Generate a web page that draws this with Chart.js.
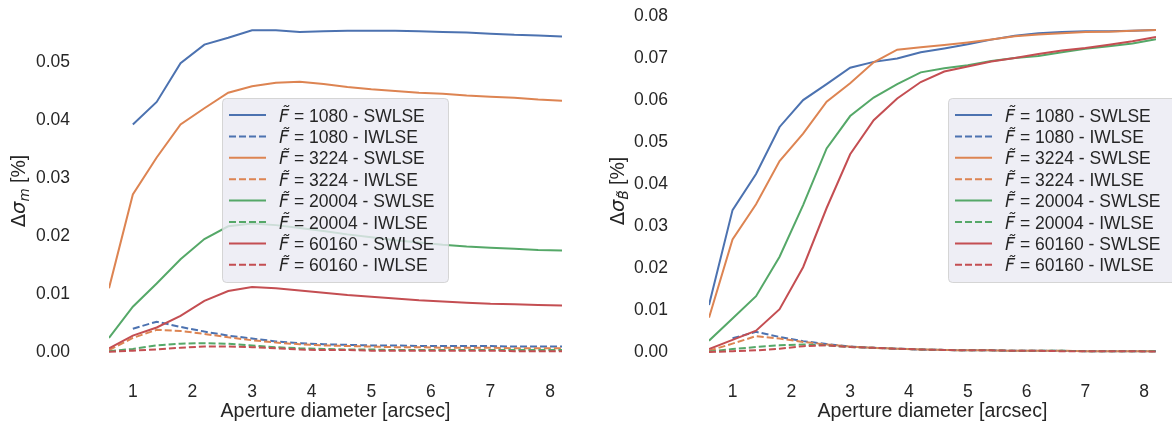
<!DOCTYPE html>
<html>
<head>
<meta charset="utf-8">
<script src="https://cdn.jsdelivr.net/npm/chart.js@4.4.1/dist/chart.umd.min.js"></script>
<style>
  html, body { margin: 0; padding: 0; background: #fff; }
  .panel { position: absolute; top: 0; width: 586px; height: 431px; }
</style>
</head>
<body>
<div class="panel" style="left:0"><canvas id="magChart" width="586" height="431"></canvas></div>
<div class="panel" style="left:586px"><canvas id="colChart" width="586" height="431"></canvas></div>
<script>
// aperture diameters [arcsec]
const apertures = [0.6, 1.0, 1.4, 1.8, 2.2, 2.6, 3.0, 3.4, 3.8, 4.2, 4.6, 5.0, 5.4, 5.8, 6.2, 6.6, 7.0, 7.4, 7.8, 8.2];
const fluxLabels = ['1080', '3224', '20004', '60160'];
const methods = ['SWLSE', 'IWLSE'];

const xTicks = [1, 2, 3, 4, 5, 6, 7, 8];
const magTicks = [0, 0.01, 0.02, 0.03, 0.04, 0.05];
const colTicks = [0, 0.01, 0.02, 0.03, 0.04, 0.05, 0.06, 0.07, 0.08];

// delta sigma_m [%]
const magSwlse1080 = [null, 0.0393, 0.0432, 0.0499, 0.0531, 0.0543, 0.0556, 0.0556, 0.0553, 0.0554, 0.0555, 0.0555, 0.0555, 0.0554, 0.0553, 0.0552, 0.0550, 0.0548, 0.0547, 0.0545];
const magIwlse1080 = [null, 0.0040, 0.0052, 0.0043, 0.0035, 0.0028, 0.0023, 0.0018, 0.0015, 0.0013, 0.0012, 0.0011, 0.0011, 0.0010, 0.0010, 0.0010, 0.0010, 0.0009, 0.0009, 0.0009];
const magSwlse3224 = [0.0110, 0.0272, 0.0336, 0.0393, 0.0421, 0.0448, 0.0459, 0.0465, 0.0467, 0.0463, 0.0458, 0.0454, 0.0451, 0.0448, 0.0446, 0.0443, 0.0441, 0.0439, 0.0436, 0.0434];
const magIwlse3224 = [0.0003, 0.0024, 0.0038, 0.0036, 0.0031, 0.0025, 0.0020, 0.0016, 0.0013, 0.0011, 0.0010, 0.0009, 0.0008, 0.0008, 0.0007, 0.0007, 0.0007, 0.0006, 0.0006, 0.0006];
const magSwlse20004 = [0.0024, 0.0078, 0.0118, 0.0160, 0.0195, 0.0217, 0.0222, 0.0219, 0.0214, 0.0209, 0.0203, 0.0198, 0.0193, 0.0189, 0.0185, 0.0182, 0.0180, 0.0178, 0.0176, 0.0175];
const magIwlse20004 = [0.0001, 0.0005, 0.0011, 0.0014, 0.0015, 0.0014, 0.0011, 0.0008, 0.0006, 0.0005, 0.0004, 0.0004, 0.0003, 0.0003, 0.0003, 0.0003, 0.0003, 0.0003, 0.0003, 0.0003];
const magSwlse60160 = [0.0006, 0.0028, 0.0042, 0.0062, 0.0088, 0.0105, 0.0112, 0.0110, 0.0106, 0.0102, 0.0098, 0.0095, 0.0092, 0.0089, 0.0087, 0.0085, 0.0083, 0.0082, 0.0081, 0.0080];
const magIwlse60160 = [0.0000, 0.0002, 0.0004, 0.0007, 0.0009, 0.0009, 0.0008, 0.0006, 0.0004, 0.0003, 0.0003, 0.0002, 0.0002, 0.0002, 0.0002, 0.0002, 0.0002, 0.0001, 0.0001, 0.0001];

// delta sigma_B~ [%]
const colSwlse1080 = [0.0112, 0.0338, 0.0424, 0.0536, 0.0600, 0.0638, 0.0677, 0.0691, 0.0699, 0.0714, 0.0723, 0.0733, 0.0744, 0.0753, 0.0759, 0.0762, 0.0764, 0.0764, 0.0765, 0.0767];
const colIwlse1080 = [null, 0.0033, 0.0048, 0.0036, 0.0026, 0.0019, 0.0013, 0.0010, 0.0008, 0.0006, 0.0005, 0.0004, 0.0004, 0.0003, 0.0003, 0.0003, 0.0002, 0.0002, 0.0002, 0.0002];
const colSwlse3224 = [0.0082, 0.0268, 0.0352, 0.0455, 0.0520, 0.0596, 0.0640, 0.0690, 0.0720, 0.0726, 0.0731, 0.0737, 0.0744, 0.0752, 0.0756, 0.0759, 0.0762, 0.0763, 0.0765, 0.0767];
const colIwlse3224 = [0.0003, 0.0020, 0.0038, 0.0032, 0.0024, 0.0018, 0.0013, 0.0010, 0.0008, 0.0006, 0.0005, 0.0004, 0.0004, 0.0003, 0.0003, 0.0003, 0.0002, 0.0002, 0.0002, 0.0002];
const colSwlse20004 = [0.0027, 0.0080, 0.0133, 0.0227, 0.0350, 0.0485, 0.0562, 0.0606, 0.0638, 0.0666, 0.0676, 0.0683, 0.0693, 0.0700, 0.0705, 0.0714, 0.0722, 0.0728, 0.0735, 0.0745];
const colIwlse20004 = [0.0001, 0.0007, 0.0012, 0.0016, 0.0018, 0.0016, 0.0012, 0.0010, 0.0008, 0.0006, 0.0005, 0.0004, 0.0004, 0.0003, 0.0003, 0.0003, 0.0002, 0.0002, 0.0002, 0.0002];
const colSwlse60160 = [0.0007, 0.0029, 0.0051, 0.0102, 0.0202, 0.0343, 0.0471, 0.0552, 0.0604, 0.0643, 0.0668, 0.0680, 0.0692, 0.0700, 0.0710, 0.0718, 0.0724, 0.0732, 0.0740, 0.0750];
const colIwlse60160 = [0.0000, 0.0002, 0.0004, 0.0008, 0.0014, 0.0016, 0.0012, 0.0010, 0.0008, 0.0006, 0.0005, 0.0004, 0.0004, 0.0003, 0.0003, 0.0002, 0.0002, 0.0002, 0.0002, 0.0001];

const palette = ['#4C72B0', '#DD8452', '#55A868', '#C44E52'];
const textColor = '#262626';
const sans = '"Liberation Sans", Arial, sans-serif';
const mathFont = '"DejaVu Sans", sans-serif';

function buildDatasets(series) {
  return series.map((vals, k) => {
    const f = Math.floor(k / 2);
    const dashed = k % 2 === 1;
    return {
      label: `F\u0303 = ${fluxLabels[f]} - ${methods[k % 2]}`,
      data: apertures.map((x, j) => ({ x, y: vals[j] })),
      borderColor: palette[f],
      borderWidth: 2,
      borderDash: dashed ? [7, 3] : [],
      borderCapStyle: 'butt',
      pointRadius: 0,
      tension: 0,
      fill: false,
      order: series.length - k   // later series on top
    };
  });
}

// legend box drawn inside the plot area
const boxLegend = {
  id: 'boxLegend',
  afterDraw(chart, args, opts) {
    const ctx = chart.ctx;
    const { x, y, w, h, rowH, firstRow } = opts;
    ctx.save();
    ctx.beginPath();
    ctx.roundRect(x + 0.5, y + 0.5, w, h, 4);
    ctx.fillStyle = 'rgba(234,234,242,0.8)';
    ctx.fill();
    ctx.strokeStyle = 'rgba(204,204,204,0.8)';
    ctx.lineWidth = 1;
    ctx.stroke();
    chart.data.datasets.forEach((ds, i) => {
      const cy = y + firstRow + i * rowH;
      ctx.beginPath();
      ctx.setLineDash(ds.borderDash);
      ctx.strokeStyle = ds.borderColor;
      ctx.lineWidth = 2;
      ctx.moveTo(x + 7, cy);
      ctx.lineTo(x + 44, cy);
      ctx.stroke();
      ctx.setLineDash([]);
      ctx.fillStyle = textColor;
      ctx.textBaseline = 'alphabetic';
      ctx.textAlign = 'left';
      const base = cy + 6.5;
      // italic F~ symbol, then the plain part of the label
      ctx.font = 'italic 17.5px ' + mathFont;
      ctx.fillText(ds.label.slice(0, 2), x + 57, base);
      const sw = ctx.measureText('F').width;
      ctx.font = '17.5px ' + sans;
      ctx.fillText(ds.label.slice(2), x + 57 + sw, base);
    });
    ctx.restore();
  }
};

// rotated y title with subscript
const yTitle = {
  id: 'yTitle',
  afterDraw(chart, args, opts) {
    const ctx = chart.ctx;
    const area = chart.chartArea;
    ctx.save();
    ctx.translate(opts.x, (area.top + area.bottom) / 2);
    ctx.rotate(-Math.PI / 2);
    ctx.fillStyle = textColor;
    ctx.textBaseline = 'alphabetic';
    ctx.textAlign = 'left';
    const parts = [
      { t: '\u0394', font: '19.5px ' + mathFont, dy: 0 },
      { t: '\u03c3', font: 'italic 19.5px ' + mathFont, dy: 0 },
      { t: opts.sub, font: 'italic 13.5px ' + mathFont, dy: 4 },
      { t: ' [%]', font: '19.5px ' + sans, dy: 0 }
    ];
    let total = 0;
    parts.forEach(p => {
      ctx.font = p.font;
      p.w = ctx.measureText(p.t).width;
      total += p.w;
    });
    let cx = -total / 2;
    parts.forEach(p => {
      ctx.font = p.font;
      ctx.fillText(p.t, cx, 7 + p.dy);
      cx += p.w;
    });
    ctx.restore();
  }
};

function makeChart(id, series, yTicks, cfg) {
  return new Chart(document.getElementById(id), {
    type: 'line',
    data: { datasets: buildDatasets(series) },
    options: {
      responsive: false,
      animation: false,
      layout: { padding: { top: 14, right: cfg.padRight, left: 0, bottom: 0 } },
      plugins: {
        legend: { display: false },
        tooltip: { enabled: false },
        boxLegend: cfg.legend,
        yTitle: { x: cfg.titleX, sub: cfg.sub }
      },
      scales: {
        x: {
          type: 'linear',
          min: 0.6,
          max: 8.2,
          // hidden tick marks keep the label gap
          grid: { display: false, drawTicks: true, tickLength: 14 },
          border: { display: false },
          afterBuildTicks: s => { s.ticks = xTicks.map(v => ({ value: v })); },
          afterFit: s => { s.height = 63; },
          ticks: {
            padding: 0,
            color: textColor,
            font: { family: sans, size: 17.5 },
            callback: v => String(v)
          },
          title: {
            display: true,
            text: 'Aperture diameter [arcsec]',
            color: textColor,
            font: { family: sans, size: 19.5 },
            padding: { top: 0, bottom: 8 }
          }
        },
        y: {
          type: 'linear',
          min: cfg.yMin,
          max: cfg.yMax,
          grid: { display: false, drawTicks: true, tickLength: cfg.tickPad },
          border: { display: false },
          afterBuildTicks: s => { s.ticks = yTicks.map(v => ({ value: v })); },
          afterFit: s => { s.width = cfg.yWidth; },
          ticks: {
            padding: 0,
            color: textColor,
            font: { family: sans, size: 17.5 },
            callback: v => v.toFixed(2)
          }
        }
      }
    },
    plugins: [boxLegend, yTitle]
  });
}

makeChart('magChart',
  [magSwlse1080, magIwlse1080, magSwlse3224, magIwlse3224, magSwlse20004, magIwlse20004, magSwlse60160, magIwlse60160],
  magTicks,
  { padRight: 24, yWidth: 109, tickPad: 39, yMin: -0.0028, yMax: 0.0584, titleX: 18, sub: 'm',
    legend: { x: 222, y: 98, w: 226, h: 184, rowH: 21.4, firstRow: 17 } });

makeChart('colChart',
  [colSwlse1080, colIwlse1080, colSwlse3224, colIwlse3224, colSwlse20004, colIwlse20004, colSwlse60160, colIwlse60160],
  colTicks,
  { padRight: 16, yWidth: 123, tickPad: 41, yMin: -0.0038, yMax: 0.0805, titleX: 31, sub: 'B\u0303',
    legend: { x: 362, y: 98, w: 240, h: 184, rowH: 21.4, firstRow: 17 } });
</script>
</body>
</html>
